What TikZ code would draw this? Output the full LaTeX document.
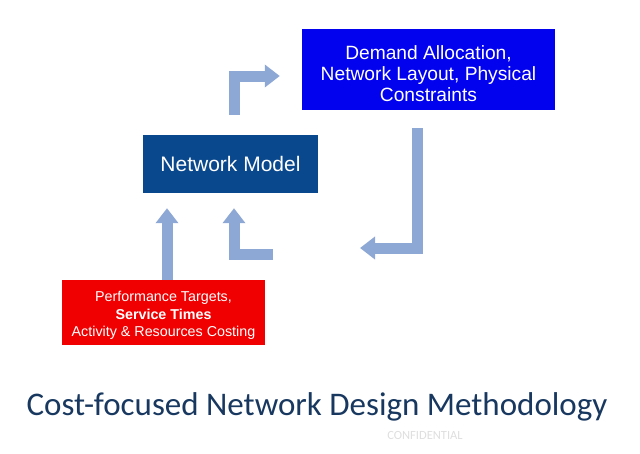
\documentclass[tikz,border=0pt]{standalone}
\usepackage{xcolor}
\usepackage{fontspec}
\setmainfont{Liberation Sans}
\newfontfamily\titlefont{Carlito}
\usepackage{tikz}
\usetikzlibrary{arrows.meta}

\definecolor{demandblue}{RGB}{2,2,238}
\definecolor{modelblue}{RGB}{10,72,142}
\definecolor{costred}{RGB}{240,0,0}
\definecolor{flowblue}{RGB}{142,168,214}
\definecolor{titlenavy}{RGB}{24,56,96}
\definecolor{confgrey}{RGB}{222,222,222}

\tikzset{
  stepbox/.style={draw=none, text=white, align=center, inner sep=0pt},
  flow/.style={draw=flowblue, line width=11pt, -{Triangle[width=22pt,length=15pt]}}
}

\begin{document}
\begin{tikzpicture}[x=1pt,y=-1pt]
             \useasboundingbox (0,0) rectangle (640,453);

             \node[stepbox, fill=demandblue, minimum width=253pt, minimum height=81pt,
                   font=\fontsize{19.2}{21}\selectfont] (demand) at (428.5, 69.5)
                   {\rule{0pt}{22pt}Demand Allocation,\\Network Layout, Physical\\Constraints};
             \node[stepbox, fill=modelblue, minimum width=175pt, minimum height=58pt,
                   font=\fontsize{21}{24}\selectfont] (model) at (230.5, 164) {Network Model};
             \node[stepbox, fill=costred, minimum width=203pt, minimum height=65pt,
                   font=\fontsize{14.3}{17.5}\selectfont] (costs) at (163.5, 312.5)
                   {\rule{0pt}{16.5pt}Performance Targets,\\\textbf{Service Times}\\Activity \& Resources Costing};

             \coordinate (back) at (360, 248);
             \coordinate (loop) at (273, 254);

             \draw[flow, shorten <=20pt, shorten >=22pt] ([xshift=3.5pt]model.north) |- ([yshift=-6.5pt]demand.west);
             \draw[flow, shorten <=18pt] ([xshift=-11.5pt]demand.south) |- (back);
             \draw[flow, shorten >=15pt] (loop) -| ([xshift=3.5pt]model.south);
             \draw[flow, shorten >=15pt] ([xshift=3.5pt]costs.north) -- ([xshift=3.5pt]costs.north |- model.south);

             \node[draw=none, text=titlenavy, font=\titlefont\fontsize{33}{36}\selectfont, anchor=base] (title) at (317, 415)
                   {Cost-focused Network Design Methodology};
             \node[draw=none, text=confgrey, font=\titlefont\fontsize{12.5}{14}\selectfont] (conf) at (425, 435) {CONFIDENTIAL};
             \end{tikzpicture}
\end{document}
